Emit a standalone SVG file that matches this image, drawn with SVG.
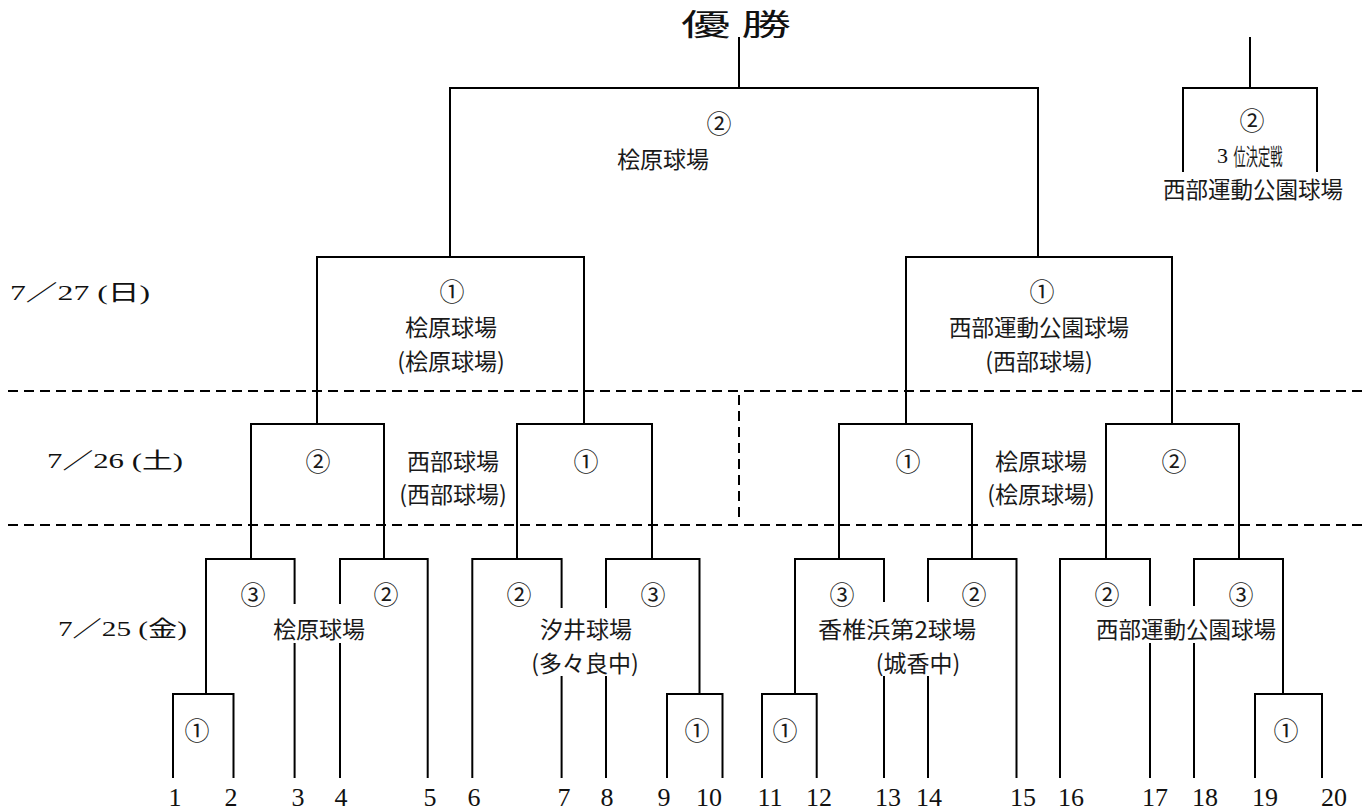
<svg xmlns="http://www.w3.org/2000/svg" width="1367" height="812" viewBox="0 0 1367 812">
<style>
.ln{fill:none;stroke:#000;stroke-width:2}
.dash{fill:none;stroke:#000;stroke-width:2;stroke-dasharray:10 6}
.bg{fill:#fff;stroke:none}
.v{font-family:"Noto Sans CJK JP","Noto Sans",sans-serif;font-size:23px;fill:#1a1a1a;text-anchor:middle;dominant-baseline:central}
.c{font-family:"Noto Sans CJK JP","DejaVu Sans",sans-serif;font-size:25px;fill:#1a1a1a;text-anchor:middle;dominant-baseline:central}
.n{font-family:"Liberation Serif","Noto Sans CJK JP",serif;font-size:26px;fill:#111;text-anchor:middle;dominant-baseline:central}
.d{font-family:"Liberation Serif","Noto Sans CJK JP",serif;font-size:22px;fill:#111;dominant-baseline:central}
.t{font-family:"Noto Sans CJK JP",sans-serif;font-size:30px;fill:#111;dominant-baseline:central}
</style>
<rect width="1367" height="812" fill="#fff"/>
<g id="dividers">
<path class="dash" d="M8 391 H1362"/>
<path class="dash" d="M8 525 H1362"/>
<path class="dash" d="M739 395 V521"/>
</g>
<g id="connectors">
<path class="ln" d="M173 778 V694 H233.5 V778"/>
<path class="ln" d="M206 694 V559 H294.6 V778"/>
<path class="ln" d="M340 778 V559 H427.7 V778"/>
<path class="ln" d="M472.3 778 V559 H561.6 V778"/>
<path class="ln" d="M606 778 V559 H699.5 V694"/>
<path class="ln" d="M667 778 V694 H722.5 V778"/>
<path class="ln" d="M251 559 V424 H384 V559"/>
<path class="ln" d="M517 559 V424 H652 V559"/>
<path class="ln" d="M317 424 V257 H584 V424"/>
<path class="ln" d="M450 257 V88 H1038 V257 M739 88 V37"/>
<path class="ln" d="M762 778 V694 H816.7 V778"/>
<path class="ln" d="M795 694 V559 H884 V778"/>
<path class="ln" d="M928 778 V559 H1016.5 V778"/>
<path class="ln" d="M1060 778 V559 H1150 V778"/>
<path class="ln" d="M1194 778 V559 H1283 V694"/>
<path class="ln" d="M1255 778 V694 H1322 V778"/>
<path class="ln" d="M839 559 V424 H972 V559"/>
<path class="ln" d="M1106 559 V424 H1239 V559"/>
<path class="ln" d="M906 424 V257 H1172 V424"/>
<path class="ln" d="M1183 172 V88 H1317 V172 M1250 88 V37"/>
</g>
<g id="title">
<text class="t" x="681" y="22" textLength="110" lengthAdjust="spacingAndGlyphs">優 勝</text>
</g>
<g id="dates">
<text class="d" x="10" y="292" textLength="140" lengthAdjust="spacingAndGlyphs">7／27 (日)</text>
<text class="d" x="47" y="460" textLength="136" lengthAdjust="spacingAndGlyphs">7／26 (土)</text>
<text class="d" x="58" y="628" textLength="129" lengthAdjust="spacingAndGlyphs">7／25 (金)</text>
</g>
<g id="final">
<text class="c" x="719" y="122">②</text>
<text class="v" x="663" y="158">桧原球場</text>
</g>
<g id="third-place">
<text class="c" x="1252" y="119">②</text>
<text class="d" x="1217" y="155" font-size="22">3</text>
<text class="v" x="1258" y="155" font-size="16" textLength="49" lengthAdjust="spacingAndGlyphs" fill="#333">位決定戦</text>
<text class="v" x="1253" y="188" textLength="180" lengthAdjust="spacingAndGlyphs">西部運動公園球場</text>
</g>
<g id="semi-left">
<text class="c" x="452" y="290">①</text>
<text class="v" x="451" y="326">桧原球場</text>
<text class="v" x="451" y="360">(桧原球場)</text>
</g>
<g id="semi-right">
<text class="c" x="1042" y="290">①</text>
<text class="v" x="1039" y="326" textLength="180" lengthAdjust="spacingAndGlyphs">西部運動公園球場</text>
<text class="v" x="1039" y="360">(西部球場)</text>
</g>
<g id="qf-left">
<text class="c" x="318" y="460">②</text>
<text class="v" x="453" y="460">西部球場</text>
<text class="v" x="453" y="493">(西部球場)</text>
<text class="c" x="586" y="460">①</text>
</g>
<g id="qf-right">
<text class="c" x="908" y="460">①</text>
<text class="v" x="1041" y="460">桧原球場</text>
<text class="v" x="1041" y="493">(桧原球場)</text>
<text class="c" x="1174" y="460">②</text>
</g>
<g id="r1-hibaru">
<rect class="bg" x="270" y="604" width="98" height="39"/>
<text class="c" x="253" y="593">③</text>
<text class="c" x="386" y="593">②</text>
<text class="c" x="197" y="729">①</text>
<text class="v" x="319" y="628">桧原球場</text>
</g>
<g id="r1-shioi">
<rect class="bg" x="531" y="608" width="108" height="68"/>
<text class="c" x="519" y="593">②</text>
<text class="c" x="653" y="593">③</text>
<text class="c" x="697" y="729">①</text>
<text class="v" x="586" y="628">汐井球場</text>
<text class="v" x="585" y="662">(多々良中)</text>
</g>
<g id="r1-kashiihama">
<rect class="bg" x="815" y="602" width="163" height="41"/>
<rect class="bg" x="876" y="640" width="84" height="36"/>
<text class="c" x="842" y="593">③</text>
<text class="c" x="974" y="593">②</text>
<text class="c" x="785" y="729">①</text>
<text class="v" x="897" y="628" textLength="158" lengthAdjust="spacingAndGlyphs">香椎浜第2球場</text>
<text class="v" x="918" y="662">(城香中)</text>
</g>
<g id="r1-seibu">
<rect class="bg" x="1094" y="606" width="184" height="37"/>
<text class="c" x="1107" y="593">②</text>
<text class="c" x="1241" y="593">③</text>
<text class="c" x="1286" y="729">①</text>
<text class="v" x="1186" y="628" textLength="180" lengthAdjust="spacingAndGlyphs">西部運動公園球場</text>
</g>
<g id="teams">
<text class="n" x="175" y="797">1</text>
<text class="n" x="231" y="797">2</text>
<text class="n" x="298" y="797">3</text>
<text class="n" x="341" y="797">4</text>
<text class="n" x="430" y="797">5</text>
<text class="n" x="474" y="797">6</text>
<text class="n" x="564" y="797">7</text>
<text class="n" x="607" y="797">8</text>
<text class="n" x="664" y="797">9</text>
<text class="n" x="709" y="797">10</text>
<text class="n" x="770" y="797">11</text>
<text class="n" x="819" y="797">12</text>
<text class="n" x="888" y="797">13</text>
<text class="n" x="929" y="797">14</text>
<text class="n" x="1023" y="797">15</text>
<text class="n" x="1071" y="797">16</text>
<text class="n" x="1155" y="797">17</text>
<text class="n" x="1205" y="797">18</text>
<text class="n" x="1265" y="797">19</text>
<text class="n" x="1334" y="797">20</text>
</g>
</svg>
